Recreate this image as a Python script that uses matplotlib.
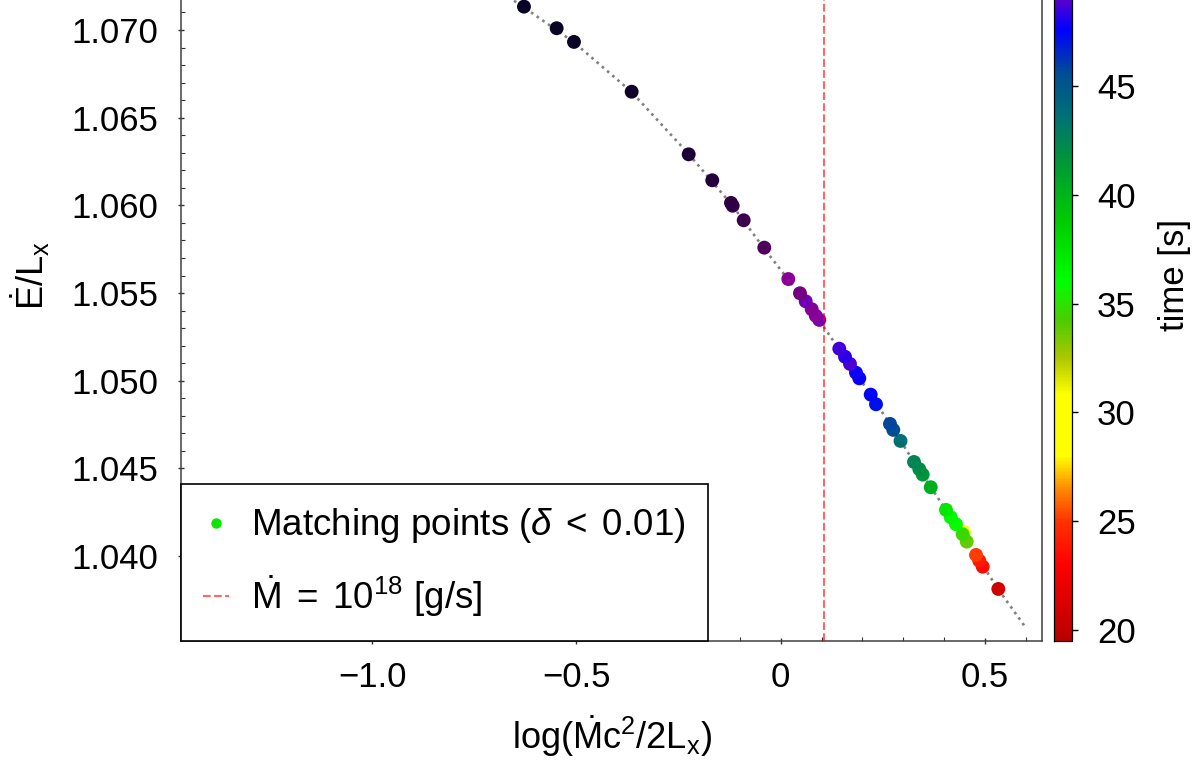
import numpy as np
import matplotlib
matplotlib.use("Agg")
import matplotlib.pyplot as plt
from matplotlib.colors import LinearSegmentedColormap, Normalize
from matplotlib.ticker import MultipleLocator, FormatStrFormatter, FixedLocator, FixedFormatter
from matplotlib.lines import Line2D

plt.rcParams['font.family'] = ['Liberation Sans', 'DejaVu Sans']
plt.rcParams['mathtext.fontset'] = 'custom'
plt.rcParams['mathtext.rm'] = 'Liberation Sans'
plt.rcParams['mathtext.it'] = 'Liberation Sans:italic'
plt.rcParams['mathtext.bf'] = 'Liberation Sans:bold'

# ---- matching points (delta < 0.01) ----
log_mdot = [0.5326, 0.4944, 0.4860, 0.4780, 0.4485, 0.4552, 0.4454, 0.4290, 0.4160,
            0.4045, 0.3671, 0.3475, 0.3392, 0.3262, 0.2931, 0.2755, 0.2674, 0.2332,
            0.2202, 0.1923, 0.1842, 0.1695, 0.1573, 0.1433, 0.0944, 0.0856, 0.0758,
            0.0611, 0.0471, 0.0185, -0.0403, -0.0907, -0.1176, -0.1218, -0.1676,
            -0.2253, -0.3649, -0.5061, -0.5485, -0.6285]
e_over_l = [1.03813, 1.03940, 1.03974, 1.04007, 1.04138, 1.04083, 1.04125, 1.04182, 1.04222,
            1.04264, 1.04393, 1.04465, 1.04496, 1.04537, 1.04657, 1.04720, 1.04754, 1.04866,
            1.04921, 1.05014, 1.05046, 1.05096, 1.05137, 1.05183, 1.05347, 1.05371, 1.05408,
            1.05453, 1.05499, 1.05580, 1.05759, 1.05915, 1.05998, 1.06014, 1.06143,
            1.06291, 1.06648, 1.06932, 1.07010, 1.07133]
time_s = [20.8, 23.4, 24.0, 25.2, 30.5, 33.8, 34.6, 35.8, 36.4,
          37.2, 40.3, 41.6, 42.0, 42.5, 43.6, 45.4, 45.8, 47.2,
          47.4, 47.7, 47.8, 48.8, 48.3, 48.6, 49.8, 50.2, 50.4,
          49.6, 50.6, 50.3, 51.3, 51.6, 51.8, 51.9, 52.1,
          52.3, 52.7, 52.9, 53.0, 53.05]

# ---- full simulated track (grey dotted) ----
track_x = [0.5956, 0.5319, 0.4779, 0.4044, 0.3260, 0.2672, 0.1838, 0.1422, 0.0956,
           0.0172, -0.0417, -0.1176, -0.2255, -0.3652, -0.5074, -0.6299, -0.7623,
           -0.8848, -0.9828]
track_y = [1.03606, 1.03813, 1.04007, 1.04264, 1.04537, 1.04754, 1.05045, 1.05181, 1.05341,
           1.05580, 1.05757, 1.05997, 1.06293, 1.06647, 1.06932, 1.07131, 1.07336,
           1.07507, 1.07655]

mdot18_x = 0.106

x_ticks = [-1.0, -0.5, 0.0, 0.5]
x_tick_labels = ['\u22121.0', '\u22120.5', '0', '0.5']
y_ticks = [1.040, 1.045, 1.050, 1.055, 1.060, 1.065, 1.070]
cbar_ticks = [20, 25, 30, 35, 40, 45]

# colour map nodes (time [s] -> colour)
cmap_times = [19.51, 23.0, 25.0, 26.5, 28.0, 30.8, 32.5, 34.2, 36.0, 38.8, 41.4,
              43.5, 45.6, 47.6, 49.0, 50.3, 51.2, 52.2, 53.09]
cmap_colors = [(0.72, 0, 0), (1, 0, 0), (1, 0.2, 0), (1, 0.55, 0), (1, 1, 0), (1, 1, 0),
               (0.68, 0.78, 0), (0.3, 0.8, 0), (0, 1, 0), (0, 0.8, 0), (0, 0.6, 0.2),
               (0, 0.45, 0.45), (0, 0.3, 0.58), (0, 0, 1), (0.35, 0, 0.8), (0.55, 0, 0.6),
               (0.33, 0, 0.38), (0.12, 0, 0.22), (0.03, 0.02, 0.14)]

vmin, vmax = cmap_times[0], cmap_times[-1]
nodes = [(t - vmin) / (vmax - vmin) for t in cmap_times]
cmap = LinearSegmentedColormap.from_list('timemap', list(zip(nodes, cmap_colors)), N=512)
norm = Normalize(vmin=vmin, vmax=vmax)

fs = 25
fig = plt.figure(figsize=(11.96, 7.6), dpi=100)
ax = fig.add_axes([0.15134, 0.15697, 0.71990, 0.96145])
cax = fig.add_axes([0.88127, 0.15697, 0.01505, 0.96145])

ax.plot(track_x, track_y, color='0.5', lw=1.9, linestyle=(0, (1, 1.6)), zorder=1)
sc = ax.scatter(log_mdot, e_over_l, c=time_s, cmap=cmap, norm=norm, s=100,
                linewidths=0, zorder=2)
ax.axvline(mdot18_x, color='red', alpha=0.6, lw=1.5, ls='--', zorder=3)

ax.set_xlim(-1.468, 0.6395)
ax.set_ylim(1.03518, 1.07684)

ax.xaxis.set_major_locator(FixedLocator(x_ticks))
ax.xaxis.set_major_formatter(FixedFormatter(x_tick_labels))
ax.xaxis.set_minor_locator(MultipleLocator(0.1))
ax.yaxis.set_major_locator(FixedLocator(y_ticks))
ax.yaxis.set_major_formatter(FormatStrFormatter('%.3f'))
ax.yaxis.set_minor_locator(FixedLocator(np.arange(1.036, 1.0725, 0.001)))

ax.tick_params(axis='both', which='major', direction='inout', length=5, width=1,
               labelsize=fs, color='0.2')
ax.tick_params(axis='both', which='minor', direction='in', length=3, width=0.8, color='0.2')
ax.tick_params(axis='x', which='major', pad=12)
ax.tick_params(axis='y', which='major', pad=14)
for side in ['left', 'bottom', 'right', 'top']:
    ax.spines[side].set_linewidth(1.1)
    ax.spines[side].set_color('0.25')

ax.set_xlabel(r'$\mathrm{log}(\dot{\mathrm{M}}\mathrm{c}^2/2\mathrm{L}_\mathrm{x})$', fontsize=26, labelpad=14)
ax.set_ylabel(r'$\dot{\mathrm{E}}/\mathrm{L}_\mathrm{x}$', fontsize=26, labelpad=14)

proxy = Line2D([], [], marker='o', ls='none', color=(0.05, 0.9, 0.0), markersize=7.5,
               markeredgewidth=0)
red_handle = ax.get_lines()[-1]
leg = ax.legend([proxy, red_handle],
                [r'Matching points ($\delta\;<\;0.01$)', r'$\dot{\mathrm{M}}\;=\;10^{18}$ [g/s]'],
                loc='lower left', bbox_to_anchor=(0, 0), borderaxespad=0,
                fancybox=False, edgecolor='black', framealpha=1, fontsize=26.5,
                handlelength=0.7, handletextpad=0.6, borderpad=0.6, labelspacing=0.75)
leg.get_frame().set_linewidth(1.2)
leg.set_zorder(5)

cb = fig.colorbar(sc, cax=cax, ticks=cbar_ticks)
cb.outline.set_linewidth(0.9)
cax.tick_params(labelsize=fs, length=4, width=1, pad=14)
cax.set_ylabel('time [s]', fontsize=fs, labelpad=16)

fig.savefig('out.png', dpi=100)
